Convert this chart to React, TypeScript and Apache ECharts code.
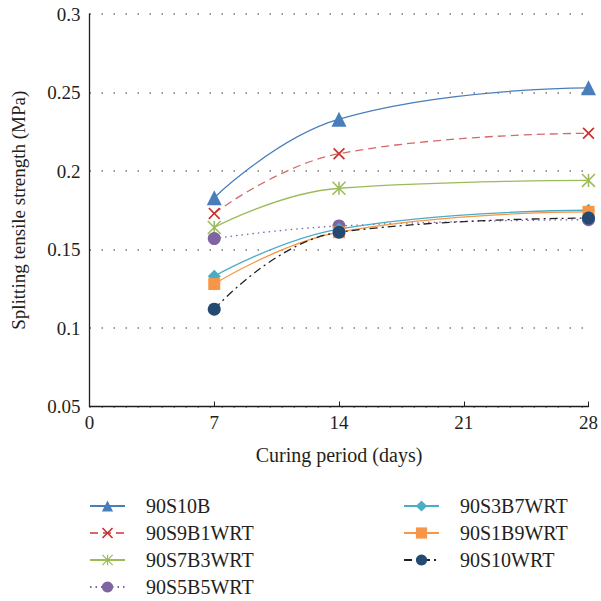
import React, { useEffect, useRef } from "react";
import * as echarts from "echarts";

const days = [7, 14, 28];
const s90S10B = [0.183, 0.233, 0.253];
const s90S9B1WRT = [0.173, 0.211, 0.224];
const s90S7B3WRT = [0.164, 0.189, 0.194];
const s90S5B5WRT = [0.157, 0.165, 0.169];
const s90S3B7WRT = [0.133, 0.163, 0.175];
const s90S1B9WRT = [0.128, 0.161, 0.174];
const s90S10WRT = [0.112, 0.161, 0.17];

const names = ["90S10B", "90S9B1WRT", "90S7B3WRT", "90S5B5WRT", "90S3B7WRT", "90S1B9WRT", "90S10WRT"];

const X_PATH = "path://M0,1L1,0L5,4L9,0L10,1L6,5L10,9L9,10L5,6L1,10L0,9L4,5Z";
const STAR_PATH =
  "path://M4.4,0L5.6,0L5.6,10L4.4,10Z M0.42,-0.42L10.42,9.58L9.58,10.42L-0.42,0.42Z M9.58,-0.42L10.42,0.42L0.42,10.42L-0.42,9.58Z";

const FONT = "Liberation Serif";
const TXT = "#231f20";

export default function App() {
  const ref = useRef<HTMLDivElement>(null);
  useEffect(() => {
    if (!ref.current) return;
    const chart = echarts.init(ref.current, null, { renderer: "svg" });
    const pair = (arr: number[]) => days.map((d, i) => [d, arr[i]]);
    const mk = (
      name: string,
      data: number[],
      lineColor: string,
      markColor: string,
      symbol: string,
      size: number,
      type: any
    ) => ({
      name,
      type: "line",
      data: pair(data),
      smooth: 0.45,
      symbol,
      symbolSize: size,
      showAllSymbol: true,
      lineStyle: { color: lineColor, width: 1.3, type },
      itemStyle: { color: markColor, borderWidth: 0 },
      emphasis: { disabled: true },
    });
    const series = [
      mk(names[0], s90S10B, "#4a7ebb", "#4a7ebb", "triangle", 15, "solid"),
      mk(names[1], s90S9B1WRT, "#d46a68", "#c8302c", X_PATH, 12, [8, 5]),
      mk(names[2], s90S7B3WRT, "#9bbb59", "#9bbb59", STAR_PATH, 14, "solid"),
      mk(names[3], s90S5B5WRT, "#8064a2", "#8064a2", "circle", 13, [1.5, 4]),
      mk(names[4], s90S3B7WRT, "#4bacc6", "#4bacc6", "diamond", 13, "solid"),
      mk(names[5], s90S1B9WRT, "#f79646", "#f79646", "rect", 12, "solid"),
      mk(names[6], s90S10WRT, "#222222", "#244a72", "circle", 13, [8, 4, 2, 4]),
    ];
    const legendText = { fontFamily: FONT, fontSize: 20, color: TXT, padding: [0, 0, 0, 16] };
    const legendBase = {
      orient: "vertical",
      top: 496,
      padding: 0,
      itemWidth: 35,
      itemHeight: 14,
      itemGap: 7,
      textStyle: legendText,
    };
    chart.setOption({
      animation: false,
      backgroundColor: "#ffffff",
      grid: { left: 89.5, right: 10, top: 14, bottom: 194.5, containLabel: false },
      legend: [
        { ...legendBase, data: names.slice(0, 4), left: 89 },
        { ...legendBase, data: names.slice(4), left: 403 },
      ],
      xAxis: {
        type: "value",
        min: 0,
        max: 28,
        interval: 7,
        name: "Curing period (days)",
        nameLocation: "middle",
        nameGap: 38,
        nameTextStyle: { fontFamily: FONT, fontSize: 20, color: TXT },
        axisLine: { show: true, lineStyle: { color: TXT, width: 1.3 } },
        axisTick: { show: true, inside: true, length: 5, lineStyle: { color: TXT } },
        axisLabel: { fontFamily: FONT, fontSize: 19, color: TXT, margin: 6 },
        splitLine: { show: false },
      },
      yAxis: {
        type: "value",
        min: 0.05,
        max: 0.3,
        interval: 0.05,
        name: "Splitting tensile strength (MPa)",
        nameLocation: "middle",
        nameGap: 62,
        nameTextStyle: { fontFamily: FONT, fontSize: 19, color: TXT },
        axisLine: { show: true, lineStyle: { color: TXT, width: 1.3 } },
        axisTick: { show: false },
        axisLabel: {
          fontFamily: FONT,
          fontSize: 19,
          color: TXT,
          margin: 9,
          formatter: (v: number) => String(parseFloat(v.toFixed(2))),
        },
        splitLine: { show: true, lineStyle: { color: "#777777", width: 1.5, type: [1.5, 10.5] } },
      },
      series,
    });
    return () => chart.dispose();
  }, []);
  return (
    <div
      ref={ref}
      style={{ position: "absolute", left: 0, top: 0, width: 601, height: 601 }}
    />
  );
}
